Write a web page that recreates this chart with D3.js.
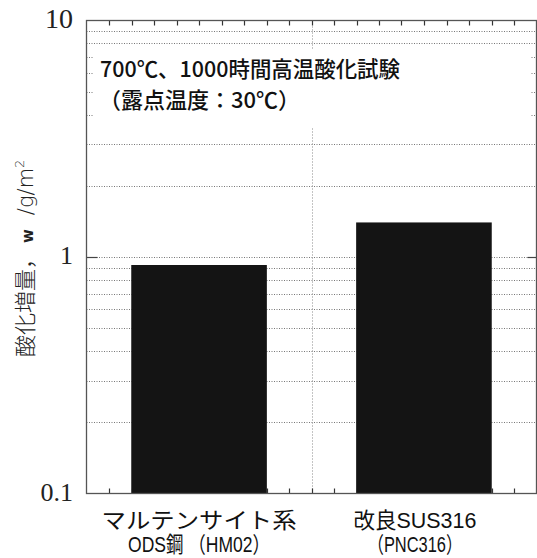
<!DOCTYPE html>
<html><head><meta charset="utf-8">
<script src="https://cdn.jsdelivr.net/npm/d3@7"></script>
<style>
html,body{margin:0;padding:0;background:#fff;}
svg{display:block;}
</style></head>
<body>
<svg id="chart" width="537" height="558"></svg>
<script>
// ---- data ----
const categories = ["ODS", "SUS316"];
const labelLine1 = ["マルテンサイト系", "改良SUS316"];
const labelLine2 = ["ODS鋼 （HM02）", "（PNC316）"];
const values = [0.925, 1.40];
const yTickValues = [0.1, 1, 10];
const yTickLabels = ["0.1", "1", "10"];
const titleLines = ["700℃、1000時間高温酸化試験", "（露点温度：30℃）"];

// ---- layout ----
const svg = d3.select("#chart");
const L = 86.5, R = 536.5, T = 20.5, B = 493.5;
const jp = "'Noto Sans CJK JP','Noto Sans',sans-serif";
const narrow = "'Liberation Sans Narrow','Liberation Sans','Noto Sans CJK JP',sans-serif";

const y = d3.scaleLog().domain([0.1, 10]).range([B, T]);
const x = d3.scaleBand().domain(categories).range([L, R]).paddingInner(0.397).paddingOuter(0.199);
const xt = d3.scaleLinear().domain([0, 20]).range([L, R]);

// minor dotted gridlines
const grid = y.ticks().filter(v => v > 0.1 && v < 10);
svg.append("g").selectAll("line").data(grid).join("line")
  .attr("x1", L).attr("x2", R)
  .attr("y1", d => Math.round(y(d)) + 0.5).attr("y2", d => Math.round(y(d)) + 0.5)
  .attr("stroke", "#777").attr("stroke-width", 1).attr("stroke-dasharray", "1,1.5");

// vertical centre dotted line
svg.append("line").attr("x1", Math.round(xt(10)) + 0.5).attr("x2", Math.round(xt(10)) + 0.5)
  .attr("y1", T).attr("y2", B).attr("stroke", "#888").attr("stroke-dasharray", "1,2");

// white box behind annotation
svg.append("rect").attr("x", 94).attr("y", 50).attr("width", 436).attr("height", 77).attr("fill", "#fff");

// ticks top & bottom
const xticks = d3.range(1, 20);
svg.append("g").selectAll("line").data(xticks).join("line")
  .attr("x1", d => Math.round(xt(d)) + 0.5).attr("x2", d => Math.round(xt(d)) + 0.5)
  .attr("y1", T).attr("y2", T + 5).attr("stroke", "#333").attr("stroke-width", 1.2);
svg.append("g").selectAll("line").data(xticks).join("line")
  .attr("x1", d => Math.round(xt(d)) + 0.5).attr("x2", d => Math.round(xt(d)) + 0.5)
  .attr("y1", B).attr("y2", B - 5).attr("stroke", "#333").attr("stroke-width", 1.2);

// major ticks at 1 (inside)
svg.append("line").attr("x1", L).attr("x2", L + 11).attr("y1", Math.round(y(1)) + 0.5).attr("y2", Math.round(y(1)) + 0.5)
  .attr("stroke", "#444").attr("stroke-width", 1.2);
svg.append("line").attr("x1", R - 9).attr("x2", R).attr("y1", Math.round(y(1)) + 0.5).attr("y2", Math.round(y(1)) + 0.5)
  .attr("stroke", "#444").attr("stroke-width", 1.2);

// bars
svg.append("g").selectAll("rect").data(values).join("rect")
  .attr("x", (d, i) => x(categories[i]))
  .attr("width", x.bandwidth())
  .attr("y", d => y(d))
  .attr("height", d => B - y(d))
  .attr("fill", "#141414");

// frame
svg.append("rect").attr("x", L).attr("y", T).attr("width", R - L).attr("height", B - T)
  .attr("fill", "none").attr("stroke", "#555").attr("stroke-width", 1.3);

// y tick labels
svg.append("g").selectAll("text").data(yTickValues).join("text")
  .attr("x", 73).attr("y", d => y(d) + 7)
  .attr("text-anchor", "end")
  .attr("font-family", "'Liberation Serif','Times New Roman',serif")
  .attr("font-size", (d, i) => i === 2 ? 28 : 26)
  .attr("fill", "#222")
  .text((d, i) => yTickLabels[i]);

// annotation
svg.append("text").attr("x", 100).attr("y", 77).attr("font-family", jp).attr("font-size", 22)
  .attr("font-weight", 500).attr("fill", "#111").attr("textLength", 300).attr("lengthAdjust", "spacingAndGlyphs")
  .text(titleLines[0]);
svg.append("text").attr("x", 99).attr("y", 108).attr("font-family", jp).attr("font-size", 22)
  .attr("font-weight", 500).attr("fill", "#111")
  .text(titleLines[1]);

// x labels
const lab1W = [195, 123], lab2W = [142, 95], nudge = [0, -9];
categories.forEach((c, i) => {
  const cx = x(c) + x.bandwidth() / 2 + nudge[i];
  svg.append("text").attr("x", cx).attr("y", 528).attr("text-anchor", "middle")
    .attr("font-family", narrow).attr("font-size", 22).attr("fill", "#111")
    .attr("textLength", lab1W[i]).attr("lengthAdjust", "spacingAndGlyphs")
    .text(labelLine1[i]);
  svg.append("text").attr("x", cx).attr("y", 552).attr("text-anchor", "middle")
    .attr("font-family", narrow).attr("font-size", 22).attr("fill", "#111")
    .attr("textLength", lab2W[i]).attr("lengthAdjust", "spacingAndGlyphs")
    .text(labelLine2[i]);
});

// y axis label
const yl = svg.append("text").attr("transform", "translate(33,357) rotate(-90)")
  .attr("font-family", jp).attr("font-size", 22).attr("font-weight", 300).attr("fill", "#222");
yl.append("tspan").text("酸化増量，");
yl.append("tspan").attr("dx", 4).attr("font-size", 15).attr("font-weight", 900).attr("font-family", "'DejaVu Sans',sans-serif").text("w");
yl.append("tspan").attr("dx", 14).attr("font-family", "'DejaVu Sans',sans-serif").attr("font-size", 21).attr("font-weight", 300).text("/g/m");
yl.append("tspan").attr("dy", -9).attr("font-size", 13).attr("font-family", "'DejaVu Sans',sans-serif").text("2");
</script>
</body></html>
